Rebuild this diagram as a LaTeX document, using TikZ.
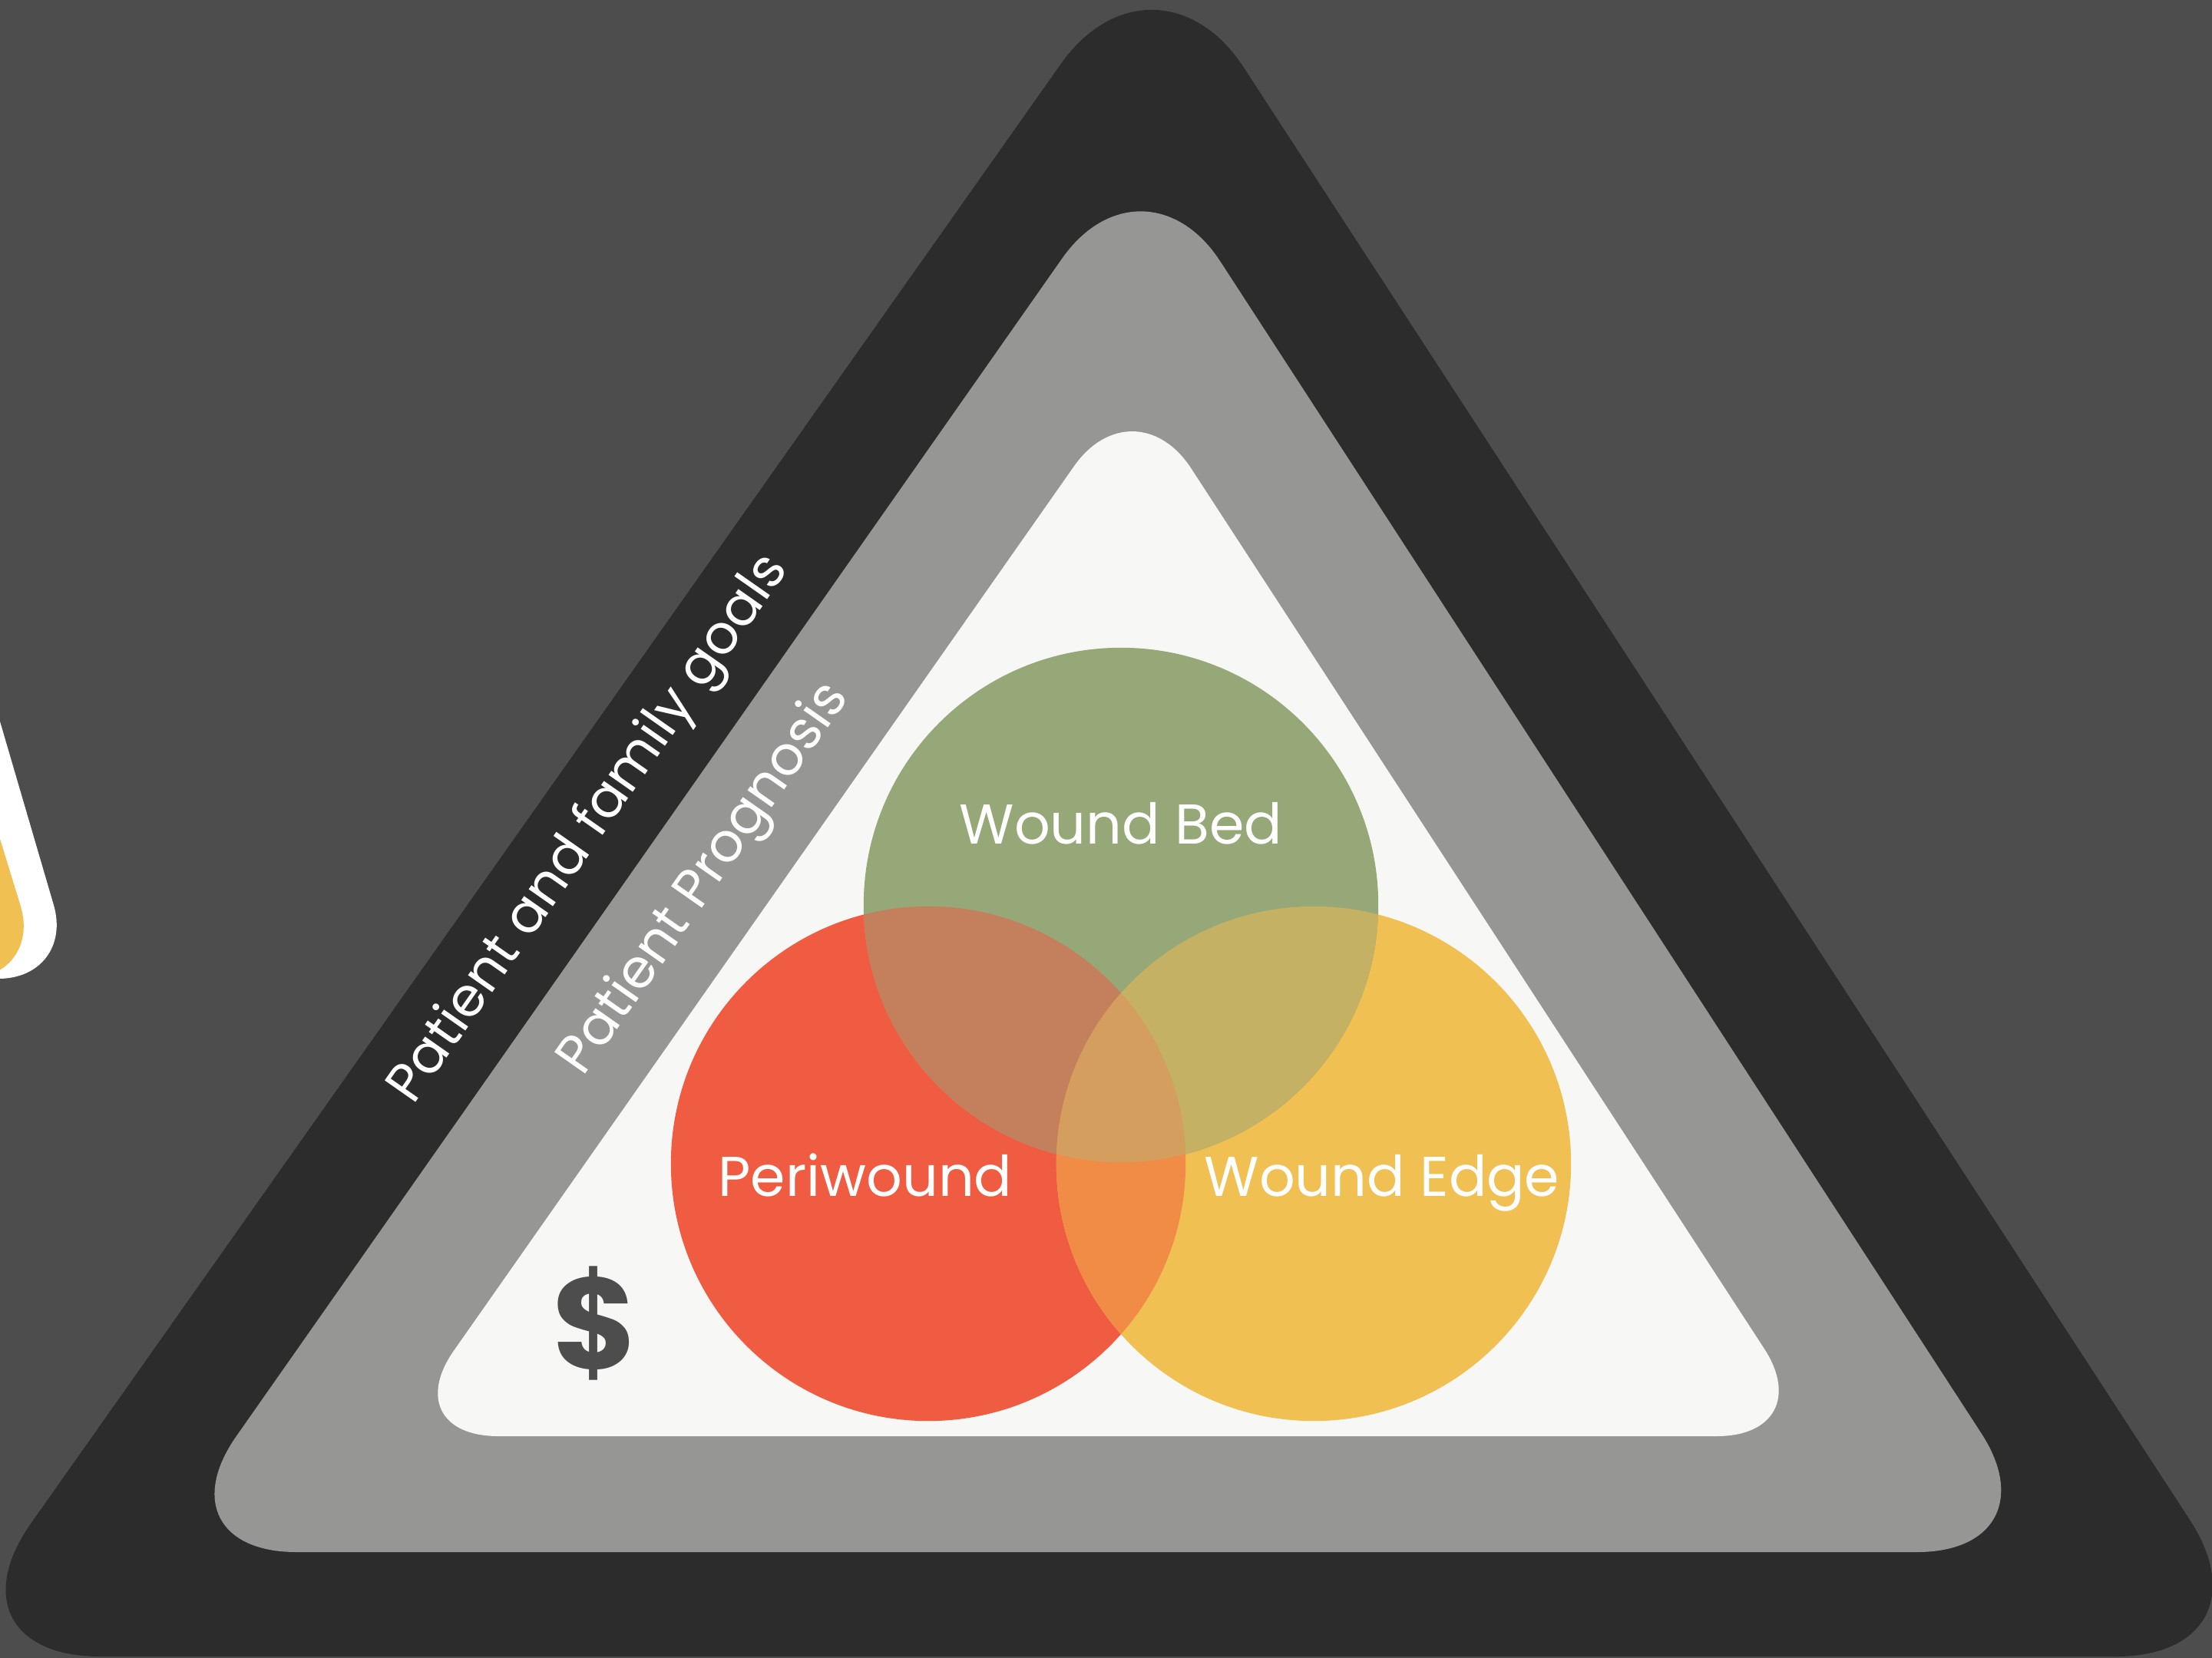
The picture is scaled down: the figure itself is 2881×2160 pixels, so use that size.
\documentclass[tikz,border=0pt]{standalone}
\usepackage{fontspec}
\setmainfont{Poppins}
\usetikzlibrary{positioning}

\definecolor{bgGray}{HTML}{4D4D4D}
\definecolor{darkBand}{HTML}{2C2C2C}
\definecolor{midBand}{HTML}{969694}
\definecolor{paleBand}{HTML}{F7F7F5}
\definecolor{bedGreen}{HTML}{96A878}
\definecolor{periRed}{HTML}{F05C41}
\definecolor{edgeYellow}{HTML}{F0C052}
\definecolor{redGreen}{HTML}{C4805C}
\definecolor{greenYellow}{HTML}{C4B164}
\definecolor{redYellow}{HTML}{F08C46}
\definecolor{allThree}{HTML}{D49E5E}

\begin{document}
\begin{tikzpicture}[x=0.01cm, y=-0.01cm,
    blob/.style={shape=circle, minimum size=6.7cm, inner sep=0pt},
    lbl/.style={text=white, anchor=base, font=\fontsize{20.8}{24}\selectfont},
    band/.style={text=white, rotate=55, font=\fontsize{20}{22}\selectfont}]
    \useasboundingbox (0,0) rectangle (2881,2160);
    \clip (0,0) rectangle (2881,2160);
    \fill[bgGray] (0,0) rectangle (2881,2160);

    % corner of the next slide
    \fill[white, rounded corners=1cm] (-300,1275) -- (98,1275) -- (-196,270) -- cycle;
    \fill[edgeYellow, rounded corners=1cm] (-300,1275) -- (56,1275) -- (-224,365) -- cycle;

    % nested triangles
    \fill[darkBand, rounded corners=2.12cm] (1443,2158) -- (-82,2158) -- (1504,-90) -- (2968,2158) -- cycle;
    \fill[midBand, rounded corners=1.84cm] (1441,2022) -- (202,2022) -- (1489,186) -- (2681,2022) -- cycle;
    \fill[paleBand, rounded corners=1.36cm] (1442,1871) -- (513,1871) -- (1477,496) -- (2372,1871) -- cycle;

    \node[band] (goals) at (769,1081) {Patient and family goals};
    \node[band] (prognosis) at (919,1146) {Patient Prognosis};

    \node[text=bgGray, font=\fontsize{48}{48}\selectfont\bfseries] (cost) at (775,1724) {\$};

    % the three circles
    \node[blob, fill=periRed] (peri) at (1209,1516) {};
    \node[blob, fill=edgeYellow] (edge) at (1711,1516) {};
    \node[blob, fill=bedGreen] (bed) at (1460,1179) {};

    \begin{scope}
        \clip (peri.center) circle[radius=3.35cm];
        \fill[redGreen] (bed.center) circle[radius=3.35cm];
    \end{scope}
    \begin{scope}
        \clip (edge.center) circle[radius=3.35cm];
        \fill[greenYellow] (bed.center) circle[radius=3.35cm];
    \end{scope}
    \begin{scope}
        \clip (peri.center) circle[radius=3.35cm];
        \fill[redYellow] (edge.center) circle[radius=3.35cm];
        \clip (edge.center) circle[radius=3.35cm];
        \fill[allThree] (bed.center) circle[radius=3.35cm];
    \end{scope}

    \node[lbl] (bedlbl) at (1460,1099) {Wound Bed};
    \node[lbl] (perilbl) at (1127,1558) {Periwound};
    \node[lbl] (edgelbl) at (1800,1558) {Wound Edge};
\end{tikzpicture}
\end{document}
